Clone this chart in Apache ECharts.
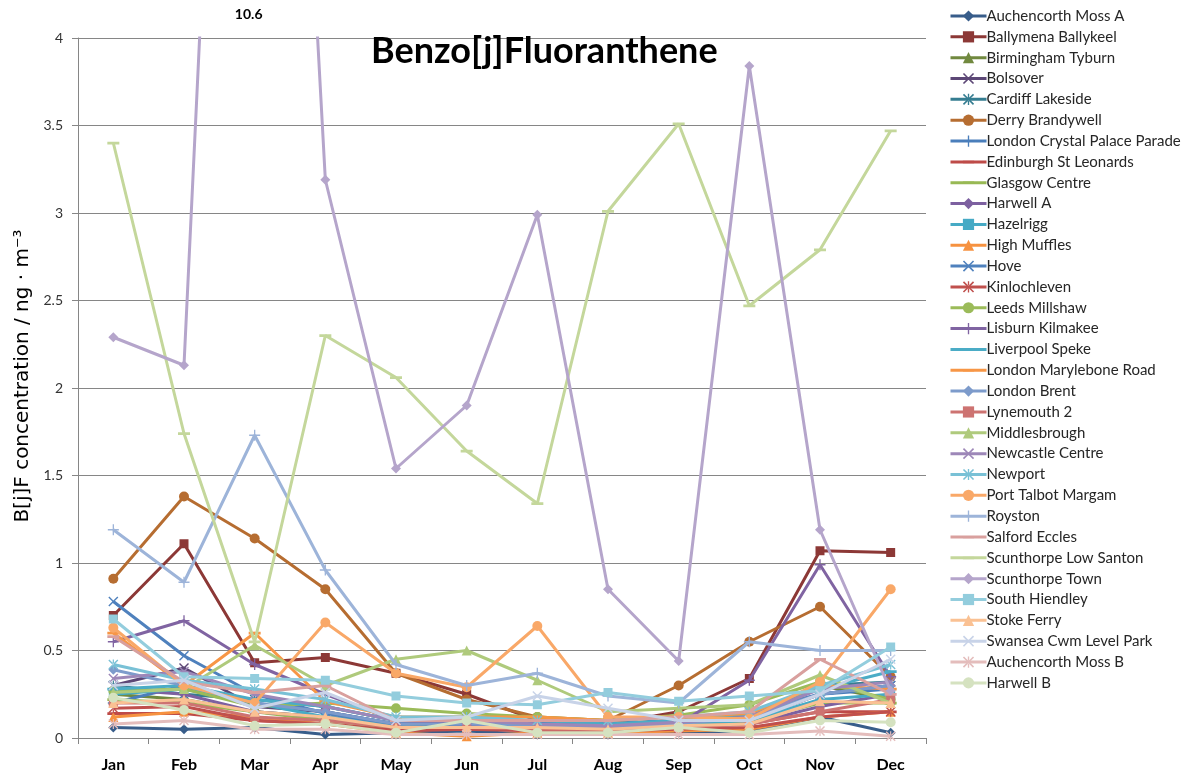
<!DOCTYPE html>
<html>
<head>
<meta charset="utf-8">
<script src="https://cdn.jsdelivr.net/npm/echarts@6/dist/echarts.min.js"></script>
<style>
html,body{margin:0;padding:0;background:#fff;}
#chart{width:1190px;height:776px;}
</style>
</head>
<body>
<div id="chart"></div>
<script>
const months = ['Jan','Feb','Mar','Apr','May','Jun','Jul','Aug','Sep','Oct','Nov','Dec'];
const yTicks = [0,0.5,1,1.5,2,2.5,3,3.5,4];

const auchencorthMossA   = [0.06,0.05,0.06,0.02,0.03,0.04,0.02,0.02,0.03,0.04,0.12,0.03];
const ballymenaBallykeel = [0.70,1.11,0.43,0.46,0.37,0.25,0.10,0.08,0.15,0.34,1.07,1.06];
const birminghamTyburn   = [0.25,0.22,0.15,0.12,0.08,0.10,0.10,0.08,0.10,0.12,0.30,0.22];
const bolsover           = [0.30,0.40,0.18,0.15,0.08,0.08,0.07,0.06,0.08,0.10,0.25,0.30];
const cardiffLakeside    = [0.30,0.25,0.22,0.18,0.10,0.10,0.09,0.08,0.10,0.12,0.30,0.32];
const derryBrandywell    = [0.91,1.38,1.14,0.85,0.37,0.22,0.12,0.10,0.30,0.55,0.75,0.35];
const londonCrystalPalace= [0.20,0.30,0.20,0.15,0.08,0.10,0.09,0.08,0.10,0.14,0.25,0.28];
const edinburghStLeonards= [0.14,0.14,0.10,0.08,0.05,0.06,0.06,0.05,0.07,0.08,0.15,0.15];
const glasgowCentre      = [0.22,0.20,0.15,0.10,0.06,0.07,0.07,0.06,0.08,0.10,0.20,0.20];
const harwellA           = [0.28,0.25,0.15,0.12,0.06,0.07,0.06,0.05,0.06,0.08,0.18,0.25];
const hazelrigg          = [0.25,0.28,0.20,0.12,0.08,0.08,0.07,0.06,0.08,0.10,0.22,0.25];
const highMuffles        = [0.12,0.15,0.12,0.08,0.03,0.01,0.03,0.03,0.04,0.05,0.12,0.15];
const hove               = [0.78,0.47,0.25,0.14,0.08,0.10,0.10,0.08,0.10,0.15,0.25,0.30];
const kinlochleven       = [0.17,0.18,0.10,0.08,0.04,0.05,0.04,0.04,0.05,0.06,0.12,0.15];
const leedsMillshaw      = [0.27,0.28,0.18,0.20,0.17,0.14,0.12,0.10,0.13,0.19,0.32,0.22];
const lisburnKilmakee    = [0.55,0.67,0.42,0.25,0.10,0.08,0.06,0.06,0.08,0.33,0.99,0.35];
const liverpoolSpeke     = [0.28,0.30,0.22,0.18,0.10,0.10,0.10,0.08,0.10,0.14,0.28,0.38];
const londonMarylebone   = [0.60,0.30,0.60,0.21,0.12,0.12,0.12,0.10,0.12,0.14,0.30,0.28];
const londonBrent        = [0.39,0.30,0.20,0.15,0.08,0.08,0.07,0.06,0.08,0.12,0.25,0.30];
const lynemouth2         = [0.20,0.20,0.12,0.10,0.06,0.06,0.05,0.05,0.06,0.08,0.15,0.22];
const middlesbrough      = [0.26,0.28,0.53,0.30,0.45,0.50,0.33,0.15,0.17,0.19,0.36,0.20];
const newcastleCentre    = [0.34,0.38,0.25,0.18,0.10,0.10,0.08,0.07,0.09,0.12,0.28,0.32];
const newport            = [0.42,0.33,0.28,0.22,0.12,0.12,0.10,0.10,0.12,0.15,0.30,0.42];
const portTalbotMargam   = [0.63,0.30,0.20,0.66,0.37,0.29,0.64,0.12,0.12,0.11,0.32,0.85];
const royston            = [1.19,0.89,1.73,0.96,0.42,0.30,0.37,0.24,0.20,0.55,0.50,0.50];
const salfordEccles      = [0.58,0.32,0.26,0.30,0.10,0.10,0.10,0.10,0.12,0.15,0.45,0.25];
const scunthorpeLowSanton= [3.40,1.74,0.55,2.30,2.06,1.64,1.34,3.01,3.51,2.47,2.79,3.47];
const scunthorpeTown     = [2.29,2.13,10.6,3.19,1.54,1.90,2.99,0.85,0.44,3.84,1.19,0.27];
const southHiendley      = [0.68,0.35,0.34,0.33,0.24,0.20,0.19,0.26,0.21,0.24,0.27,0.52];
const stokeFerry         = [0.20,0.22,0.15,0.12,0.06,0.06,0.06,0.05,0.07,0.08,0.21,0.20];
const swanseaCwmLevelPark= [0.30,0.33,0.17,0.26,0.10,0.12,0.24,0.17,0.10,0.10,0.25,0.45];
const auchencorthMossB   = [0.08,0.10,0.05,0.05,0.02,0.02,0.02,0.02,0.02,0.02,0.04,0.01];
const harwellB           = [0.23,0.16,0.07,0.08,0.03,0.10,0.03,0.03,0.06,0.03,0.10,0.09];

const seriesNames = ['Auchencorth Moss A','Ballymena Ballykeel','Birmingham Tyburn','Bolsover','Cardiff Lakeside','Derry Brandywell','London Crystal Palace Parade','Edinburgh St Leonards','Glasgow Centre','Harwell A','Hazelrigg','High Muffles','Hove','Kinlochleven','Leeds Millshaw','Lisburn Kilmakee','Liverpool Speke','London Marylebone Road','London Brent','Lynemouth 2','Middlesbrough','Newcastle Centre','Newport','Port Talbot Margam','Royston','Salford Eccles','Scunthorpe Low Santon','Scunthorpe Town','South Hiendley','Stoke Ferry','Swansea Cwm Level Park','Auchencorth Moss B','Harwell B'];
const seriesValues = [auchencorthMossA,ballymenaBallykeel,birminghamTyburn,bolsover,cardiffLakeside,derryBrandywell,londonCrystalPalace,edinburghStLeonards,glasgowCentre,harwellA,hazelrigg,highMuffles,hove,kinlochleven,leedsMillshaw,lisburnKilmakee,liverpoolSpeke,londonMarylebone,londonBrent,lynemouth2,middlesbrough,newcastleCentre,newport,portTalbotMargam,royston,salfordEccles,scunthorpeLowSanton,scunthorpeTown,southHiendley,stokeFerry,swanseaCwmLevelPark,auchencorthMossB,harwellB];
const seriesColors = ['#385D8A','#8C3836','#71893F','#5C4776','#357D91','#B66D31',
  '#4A7EBB','#BE4B48','#98B954','#7D60A0','#46AAC5','#F69240',
  '#4F81BD','#C0504D','#9BBB59','#8064A2','#4BACC6','#F79646',
  '#7D9BCB','#CD7371','#AFCA7C','#9D87B8','#79C1D6','#F9A868',
  '#9DB4D9','#D9A09E','#C4D79B','#B5A5CB','#93CDDD','#FAC193',
  '#C8D3E8','#E4BDBC','#D5E2C0'];
const annotation = '10.6';

// dash marker: thin horizontal bar inside a square bounding box (tiny corner points keep the box square)
const DASH = 'path://M0,0 L0.01,0 L0.01,0.01 Z M0,4 L10,4 L10,6.2 L0,6.2 Z M10,10 L9.99,10 L10,9.99 Z';
const SYM = {
  diamond: {s:'diamond', size:10},
  square: {s:'rect', size:9},
  triangle: {s:'triangle', size:10},
  x: {s:'path://M1,0 L5,4 L9,0 L10,1 L6,5 L10,9 L9,10 L5,6 L1,10 L0,9 L4,5 L0,1 Z', size:10},
  star: {s:'path://M1,0 L5,4 L9,0 L10,1 L6,5 L10,9 L9,10 L5,6 L1,10 L0,9 L4,5 L0,1 Z M4.4,0 L4.4,10 L5.6,10 L5.6,0 Z', size:10},
  circle: {s:'circle', size:10},
  plus: {s:'path://M4.4,0 L5.6,0 L5.6,4.4 L10,4.4 L10,5.6 L5.6,5.6 L5.6,10 L4.4,10 L4.4,5.6 L0,5.6 L0,4.4 L4.4,4.4 Z', size:11},
  dash: {s:DASH, size:12},
  dash2: {s:DASH, size:12}
};
const cycle = ['diamond','square','triangle','x','star','circle','plus','dash','dash2'];

const series = seriesNames.map((name, i) => {
  const m = SYM[cycle[i % cycle.length]];
  return {
    name: name,
    type: 'line',
    data: seriesValues[i],
    symbol: m.s,
    symbolSize: m.size,
    showAllSymbol: true,
    clip: true,
    z: 2 + i,
    lineStyle: {width: 3, color: seriesColors[i]},
    itemStyle: {color: seriesColors[i], borderColor: seriesColors[i], borderWidth: 0},
    emphasis: {disabled: true},
    animation: false
  };
});

const chart = echarts.init(document.getElementById('chart'), null, {renderer: 'canvas'});
const FONT = 'Lato, "Open Sans", "DejaVu Sans", sans-serif';
chart.setOption({
  animation: false,
  backgroundColor: '#ffffff',
  title: {
    text: 'Benzo[j]Fluoranthene',
    left: 366, top: 28,
    textStyle: {fontFamily: FONT, fontSize: 36, fontWeight: 'bold', color: '#000'}
  },
  legend: {
    orient: 'vertical',
    left: 944, top: 3,
    itemWidth: 36, itemHeight: 14,
    itemGap: 4.84,
    data: seriesNames,
    selectedMode: false,
    lineStyle: {width: 3},
    textStyle: {fontFamily: FONT, fontSize: 15, color: '#262626', lineHeight: 16, padding: [0,0,0,-5]}
  },
  grid: {left: 78, right: 264, top: 38, bottom: 38, containLabel: false},
  xAxis: {
    type: 'category',
    data: months,
    boundaryGap: true,
    axisLine: {lineStyle: {color: '#868686', width: 1}},
    axisTick: {show: true, alignWithLabel: false, length: 6, lineStyle: {color: '#868686'}},
    axisLabel: {fontFamily: FONT, fontSize: 16, fontWeight: 'bold', color: '#000', margin: 19},
    splitLine: {show: false}
  },
  yAxis: {
    type: 'value',
    min: 0, max: 4, interval: 0.5,
    name: 'B[j]F concentration / ng · m⁻³',
    nameLocation: 'middle',
    nameGap: 45,
    nameTextStyle: {fontFamily: '"DejaVu Sans", sans-serif', fontSize: 20, color: '#000', padding: [0,0,0,24]},
    axisLine: {show: true, lineStyle: {color: '#868686', width: 1}},
    axisTick: {show: true, length: 6, lineStyle: {color: '#868686'}},
    axisLabel: {fontFamily: FONT, fontSize: 14, color: '#333', margin: 15,
      formatter: v => (yTicks.indexOf(v) >= 0 ? String(v) : '')},
    splitLine: {show: true, lineStyle: {color: '#868686', width: 1}}
  },
  series: series
});

const px = chart.convertToPixel({xAxisIndex: 0}, 'Mar');
chart.setOption({
  graphic: [{
    type: 'text',
    x: px - 6, y: 14,
    style: {text: annotation, fontFamily: FONT, fontSize: 14, fontWeight: 'bold', fill: '#000', align: 'center', verticalAlign: 'middle'}
  }]
});
</script>
</body>
</html>
